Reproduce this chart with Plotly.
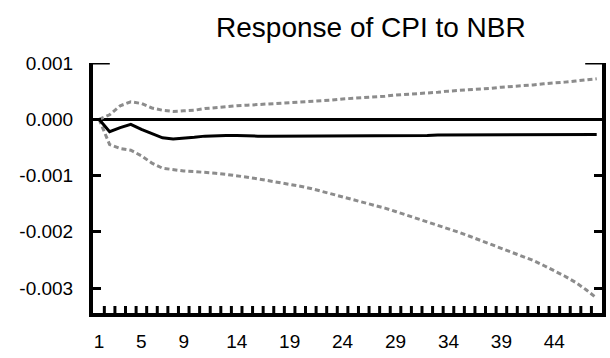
import plotly.graph_objects as go

# Impulse response of CPI to an NBR shock, with +/- 2 S.E. bands
periods = list(range(1, 49))

response = [
    0.0, -0.00022, -0.00015, -0.00009, -0.00018, -0.00026, -0.00033, -0.00035,
    -0.00034, -0.00032, -0.00030, -0.00029, -0.00029, -0.00029, -0.00030, -0.00030,
    -0.00030, -0.00030, -0.00030, -0.00030, -0.00030, -0.00030, -0.00030, -0.00030,
    -0.00030, -0.00030, -0.00030, -0.00030, -0.00030, -0.00030, -0.00030, -0.00029,
    -0.00028, -0.00028, -0.00028, -0.00028, -0.00028, -0.00028, -0.00027, -0.00027,
    -0.00027, -0.00027, -0.00027, -0.00027, -0.00027, -0.00027, -0.00027, -0.00027,
]

upper_band = [
    0.0, 0.00008, 0.00024, 0.00031, 0.00028, 0.00020, 0.00016, 0.00014,
    0.00015, 0.00016, 0.00019, 0.00021, 0.00023, 0.00024, 0.00025, 0.00026,
    0.00027, 0.00028, 0.00030, 0.00031, 0.00032, 0.00033, 0.00034, 0.00036,
    0.00037, 0.00038, 0.00040, 0.00041, 0.00043, 0.00044, 0.00045, 0.00047,
    0.00048, 0.00050, 0.00051, 0.00052, 0.00054, 0.00055, 0.00057, 0.00058,
    0.00060, 0.00061, 0.00063, 0.00064, 0.00066, 0.00068, 0.00070, 0.00072,
]

lower_band = [
    0.0, -0.00045, -0.00052, -0.00055, -0.00065, -0.00078, -0.00087, -0.00090,
    -0.00092, -0.00093, -0.00094, -0.00096, -0.00098, -0.00100, -0.00103, -0.00106,
    -0.00109, -0.00112, -0.00115, -0.00119, -0.00123, -0.00128, -0.00132, -0.00137,
    -0.00142, -0.00147, -0.00152, -0.00158, -0.00164, -0.00170, -0.00176, -0.00182,
    -0.00188, -0.00194, -0.00201, -0.00208, -0.00215, -0.00222, -0.00229, -0.00236,
    -0.00243, -0.00251, -0.00260, -0.00269, -0.00279, -0.00290, -0.00303, -0.00318,
]

x_tick_vals = [1, 5, 9, 14, 19, 24, 29, 34, 39, 44]
y_tick_vals = [-0.003, -0.002, -0.001, 0.0, 0.001]
y_tick_text = ["-0.003", "-0.002", "-0.001", "0.000", "0.001"]

# small ticks between consecutive periods along the horizontal axis
period_ticks = [p + 0.5 for p in periods[:-1]]

x_range = [0.43, 48.5]
y_range = [-0.003444, 0.001]
plot_height_px = 358 - 63 - 45
tick_len_px = 7

band_style = dict(color="#8c8c8c", width=3, dash="5px,3px")

fig = go.Figure()
fig.add_trace(go.Scatter(x=periods, y=upper_band, mode="lines", line=band_style,
                         hoverinfo="skip"))
fig.add_trace(go.Scatter(x=periods, y=lower_band, mode="lines", line=band_style,
                         hoverinfo="skip"))
fig.add_trace(go.Scatter(x=periods, y=response, mode="lines",
                         line=dict(color="black", width=3)))

# period tick marks rising from the bottom axis, drawn as short segments
tick_height = (y_range[1] - y_range[0]) * tick_len_px / plot_height_px
tick_x, tick_y = [], []
for t in period_ticks:
    tick_x += [t, t, None]
    tick_y += [y_range[0], y_range[0] + tick_height, None]
fig.add_trace(go.Scatter(x=tick_x, y=tick_y, mode="lines", connectgaps=False,
                         line=dict(color="black", width=3), hoverinfo="skip"))

font = dict(family="Liberation Sans, Arial, sans-serif", color="black")

fig.update_layout(
    width=610, height=358,
    margin=dict(l=93, r=8, t=63, b=45),
    paper_bgcolor="white", plot_bgcolor="white",
    showlegend=False,
    title=dict(text="Response of CPI to NBR", x=0.608, xanchor="center",
               y=0.925, yanchor="middle", font=dict(size=28, **font)),
    font=dict(size=19, **font),
)

fig.update_xaxes(
    range=x_range,
    showgrid=False, zeroline=False, automargin=False,
    showline=True, linecolor="black", linewidth=4, mirror=False,
    tickmode="array", tickvals=x_tick_vals, ticks="",
    ticklabelstandoff=8,
    tickfont=dict(size=19, **font),
)

fig.update_yaxes(
    range=y_range,
    showgrid=False, automargin=False,
    zeroline=True, zerolinecolor="black", zerolinewidth=2.5,
    showline=True, linecolor="black", linewidth=4, mirror="ticks",
    tickmode="array", tickvals=y_tick_vals, ticktext=y_tick_text,
    ticks="inside", ticklen=8, tickwidth=3, tickcolor="black",
    ticklabelstandoff=12,
    tickfont=dict(size=19, **font),
)

# longer caps at the top of both vertical axes
top = y_tick_vals[-1]
for x0, x1 in [(0, 0.033), (0.967, 1)]:
    fig.add_shape(type="line", xref="paper", yref="y", x0=x0, x1=x1, y0=top, y1=top,
                  line=dict(color="black", width=3))

fig.write_html("out.html")
